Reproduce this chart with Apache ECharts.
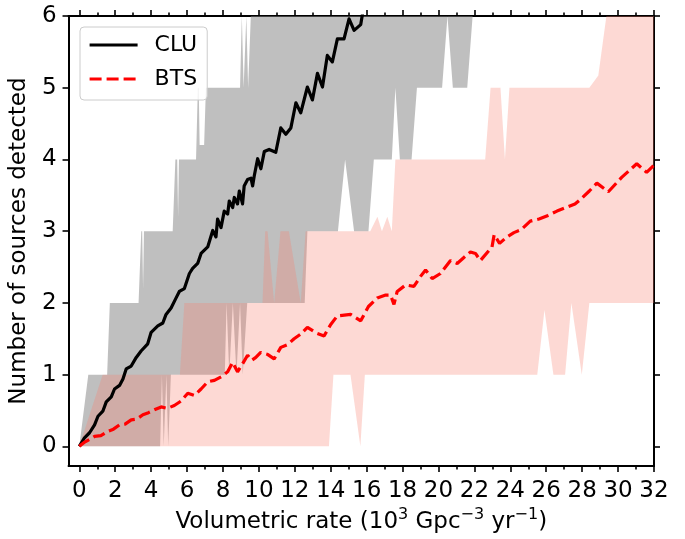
<!DOCTYPE html>
<html>
<head>
<meta charset="utf-8">
<script src="https://cdn.jsdelivr.net/npm/echarts@6/dist/echarts.min.js"></script>
<style>
html,body{margin:0;padding:0;background:#fff;}
#chart{width:685px;height:539px;}
</style>
</head>
<body>
<div id="chart"></div>
<script>
// ---- tick values ----
const xMajorTicks = [0,2,4,6,8,10,12,14,16,18,20,22,24,26,28,30,32];
const xMinorTicks = [1,3,5,7,9,11,13,15,17,19,21,23,25,27,29,31];
const yTicks = [0,1,2,3,4,5,6];

// ---- CLU mean curve ----
const cluX = [0,0.29,0.57,0.85,1.04,1.31,1.5,1.78,1.96,2.24,2.43,2.61,2.89,3.17,3.44,3.81,4.0,4.37,4.65,4.83,5.11,5.39,5.57,5.85,6.13,6.31,6.59,6.78,7.15,7.43,7.61,7.7,7.89,8.07,8.26,8.35,8.54,8.63,8.81,8.91,9.09,9.18,9.37,9.56,9.65,9.74,9.93,10.11,10.3,10.57,10.94,11.22,11.5,11.78,12.06,12.33,12.7,12.98,13.26,13.54,13.81,14.09,14.37,14.74,15.02,15.3,15.67,15.85];
const cluY = [0,0.12,0.19,0.30,0.42,0.49,0.62,0.69,0.80,0.85,0.94,1.08,1.12,1.24,1.33,1.43,1.59,1.68,1.72,1.84,1.93,2.07,2.16,2.20,2.41,2.48,2.55,2.69,2.78,3.01,2.92,3.17,3.05,3.28,3.24,3.42,3.33,3.47,3.38,3.56,3.38,3.63,3.72,3.74,3.63,3.77,4.01,3.87,4.11,4.14,4.10,4.44,4.35,4.44,4.79,4.65,5.01,4.83,5.20,5.01,5.45,5.36,5.68,5.68,5.96,5.80,5.88,6.15];

// ---- BTS mean curve ----
const btsX = [0,0.3,0.6,0.85,1.2,1.59,1.9,2.24,2.55,2.89,3.2,3.54,3.85,4.18,4.56,4.9,5.29,5.65,6.04,6.4,6.78,7.15,7.52,7.9,8.26,8.54,8.81,9.09,9.37,9.6,9.83,10.1,10.5,10.85,11.22,11.6,11.96,12.3,12.7,13.2,13.63,14.0,14.37,15.11,15.67,16.1,16.59,17.06,17.33,17.52,17.7,18.17,18.63,19.0,19.28,19.65,20.11,20.39,20.67,21.04,21.4,21.78,22.06,22.33,22.98,23.1,23.4,23.81,24.2,24.6,25.11,25.6,26.1,26.6,27.1,27.6,27.89,28.4,28.82,29.46,30.2,30.6,31.04,31.59,31.96,32.3];
const btsY = [0,0.06,0.10,0.14,0.15,0.21,0.24,0.30,0.31,0.37,0.38,0.44,0.47,0.51,0.55,0.53,0.57,0.63,0.74,0.71,0.80,0.90,0.92,0.97,1.04,1.17,1.04,1.15,1.27,1.20,1.24,1.31,1.28,1.22,1.38,1.42,1.50,1.56,1.66,1.58,1.54,1.70,1.82,1.84,1.75,1.95,2.07,2.11,2.11,1.98,2.16,2.25,2.23,2.37,2.46,2.34,2.41,2.50,2.59,2.55,2.63,2.71,2.69,2.59,2.78,2.95,2.83,2.92,2.98,3.02,3.14,3.17,3.22,3.28,3.33,3.38,3.44,3.56,3.67,3.55,3.75,3.84,3.94,3.82,3.91,3.99];

// ---- CLU range (upper / lower edges) ----
const cluHiX = [0,0.5,1.55,1.7,3.3,3.45,3.5,3.55,3.6,5.2,5.35,5.45,5.5,5.55,6.5,6.6,6.65,6.7,6.95,7.05,8.95,9.05,9.15,9.3,9.4,9.55,22.0];
const cluHiY = [0,1,1,2,2,3,3,2.2,3,3,4,4,3.2,4,4,5,5,4.2,4.2,5,5,6,5,6,5,6,6];
const cluLoX = [0,4.5,4.6,4.7,4.85,4.95,5.1,8.1,8.2,8.35,8.55,8.75,8.95,9.1,9.35,12.55,12.7,14.4,14.8,15.3,16.1,16.4,17.4,17.6,17.85,18.5,18.8,20.2,20.5,20.8,21.6,21.9,22.0];
const cluLoY = [0,0,1,0,1,0,1,1,2,1,2,1,2,1,2,2,3,3,4,3,3,4,4,5,4,4,5,5,6,5,5,6,6];

// ---- BTS range (upper / lower edges) ----
const btsHiX = [0,1.3,5.6,5.85,10.2,10.35,10.48,10.85,11.2,11.67,12.33,12.6,16.2,16.6,16.85,17.15,17.4,17.6,22.6,22.9,23.45,23.7,23.95,28.4,28.9,29.35,32];
const btsHiY = [0,1,1,2,2,3,3,2,3,3,2,3,3,3.2,3,3.2,3,4,4,5,5,4,5,5,5.17,6,6];
const btsLoX = [0,13.9,14.15,15.1,15.65,15.9,25.5,25.9,26.4,27.05,27.4,27.98,28.4,32];
const btsLoY = [0,0,1,1,0,1,1,1.9,1,1,2,1,2,2];

const FONT = 'DejaVu Sans';
const AXFS = 23;
const zip = (xs, ys) => xs.map((x, i) => [x, ys[i]]);

function bandRenderer(hiX, hiY, loX, loY, color) {
  return function (params, api) {
    const pts = [];
    for (let i = 0; i < hiX.length; i++) pts.push(api.coord([hiX[i], hiY[i]]));
    for (let i = loX.length - 1; i >= 0; i--) pts.push(api.coord([loX[i], loY[i]]));
    return { type: 'polygon', shape: { points: pts }, style: { fill: color } };
  };
}

const XMIN = -0.6, XMAX = 32, YMIN = -0.275, YMAX = 6;
const lineCol = '#000';
function xAx(pos, ticks, len, showLine, labels, extra) {
  return Object.assign({
    type: 'value', position: pos, min: XMIN, max: XMAX,
    axisLine: { show: showLine, onZero: false, lineStyle: { color: lineCol, width: 2 } },
    axisTick: { show: true, inside: false, length: len, customValues: ticks, lineStyle: { color: lineCol, width: 1.6 } },
    axisLabel: labels ? { show: true, customValues: ticks, fontSize: AXFS, fontFamily: FONT, color: '#000', margin: 13 } : { show: false },
    splitLine: { show: false }
  }, extra || {});
}
function yAx(pos, labels, extra) {
  return Object.assign({
    type: 'value', position: pos, min: YMIN, max: YMAX,
    axisLine: { show: true, onZero: false, lineStyle: { color: lineCol, width: 2 } },
    axisTick: { show: true, inside: false, length: 6, customValues: yTicks, lineStyle: { color: lineCol, width: 1.6 } },
    axisLabel: labels ? { show: true, customValues: yTicks, fontSize: AXFS, fontFamily: FONT, color: '#000', margin: 12 } : { show: false },
    splitLine: { show: false }
  }, extra || {});
}

const chart = echarts.init(document.getElementById('chart'), null, { renderer: 'canvas' });
chart.setOption({
  animation: false,
  backgroundColor: '#fff',
  grid: { left: 67, right: 31, top: 16, bottom: 67, containLabel: false },
  legend: {
    data: ['CLU', 'BTS'],
    orient: 'vertical', left: 80, top: 27,
    padding: [6, 10, 9, 8],
    itemWidth: 48, itemHeight: 24, itemGap: 10,
    itemStyle: { opacity: 0 },
    lineStyle: { width: 3.2 },
    backgroundColor: 'rgba(255,255,255,0.8)',
    borderColor: '#cccccc', borderWidth: 1, borderRadius: 4,
    textStyle: { fontSize: 22, fontFamily: FONT, color: '#000', lineHeight: 24, padding: [0, 0, 0, 12] }
  },
  xAxis: [
    xAx('bottom', xMajorTicks, 6, true, true, {
      name: '{n|Volumetric rate (10}{s|3}{n| Gpc}{s|−3}{n| yr}{s|−1}{n|)}',
      nameLocation: 'middle', nameGap: 34,
      nameTextStyle: {
        fontSize: AXFS, fontFamily: FONT, color: '#000',
        rich: {
          n: { fontSize: AXFS, fontFamily: FONT, color: '#000', lineHeight: 27, verticalAlign: 'bottom' },
          s: { fontSize: 16, fontFamily: FONT, color: '#000', lineHeight: 17, verticalAlign: 'top' }
        }
      }
    }),
    xAx('bottom', xMinorTicks, 3.5, false, false),
    xAx('top', xMajorTicks, 6, true, false),
    xAx('top', xMinorTicks, 3.5, false, false)
  ],
  yAxis: [
    yAx('left', true, {
      name: 'Number of sources detected', nameLocation: 'middle', nameGap: 28,
      nameTextStyle: { fontSize: AXFS, fontFamily: FONT, color: '#000' }
    }),
    yAx('right', false)
  ],
  series: [
    { name: 'cluBand', type: 'custom', xAxisIndex: 0, yAxisIndex: 0, data: [[0, 0]], silent: true, clip: true,
      renderItem: bandRenderer(cluHiX, cluHiY, cluLoX, cluLoY, 'rgba(128,128,128,0.5)') },
    { name: 'btsBand', type: 'custom', xAxisIndex: 0, yAxisIndex: 0, data: [[0, 0]], silent: true, clip: true,
      renderItem: bandRenderer(btsHiX, btsHiY, btsLoX, btsLoY, 'rgba(250,128,114,0.3)') },
    { name: 'CLU', type: 'line', xAxisIndex: 0, yAxisIndex: 0, data: zip(cluX, cluY), symbol: 'none', clip: true,
      color: '#000', lineStyle: { color: '#000', width: 3.2, join: 'round' } },
    { name: 'BTS', type: 'line', xAxisIndex: 0, yAxisIndex: 0, data: zip(btsX, btsY), symbol: 'none', clip: true,
      color: '#ff0000', lineStyle: { color: '#ff0000', width: 3.2, type: [12, 5] } }
  ]
});
</script>
</body>
</html>
